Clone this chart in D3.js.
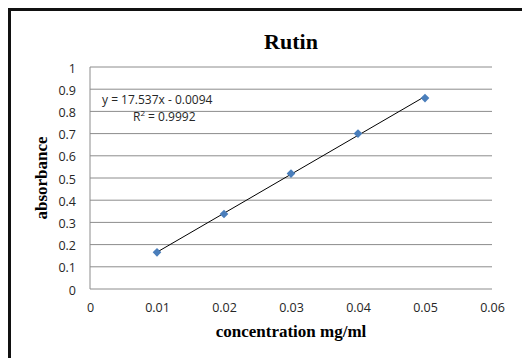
<!DOCTYPE html>
<html>
<head>
<meta charset="utf-8">
<script src="https://cdn.jsdelivr.net/npm/d3@7"></script>
<style>
  body { margin: 0; background: #fff; }
  svg { display: block; }
</style>
</head>
<body>
<svg id="chart" width="522" height="358"></svg>
<script>
// data
let concentration = [0.01, 0.02, 0.03, 0.04, 0.05]
let absorbance = [0.165, 0.338, 0.52, 0.70, 0.86]
let xTicks = [0, 0.01, 0.02, 0.03, 0.04, 0.05, 0.06]
let yTicks = [0, 0.1, 0.2, 0.3, 0.4, 0.5, 0.6, 0.7, 0.8, 0.9, 1]
let slope = 17.537, intercept = -0.0094, r2 = 0.9992

let svg = d3.select('#chart')
let plotLeft = 90, plotRight = 492, plotTop = 67, plotBottom = 289

let x = d3.scaleLinear().domain([0, 0.06]).range([plotLeft, plotRight])
let y = d3.scaleLinear().domain([0, 1]).range([plotBottom, plotTop])

// outer frame
svg.append('rect')
    .attr('x', 9.5).attr('y', 9.5)
    .attr('width', 530).attr('height', 360)
    .attr('fill', 'none')
    .attr('stroke', '#111')
    .attr('stroke-width', 3)

// gridlines
svg.append('g')
    .selectAll('line')
    .data(yTicks)
    .enter()
    .append('line')
    .attr('x1', plotLeft).attr('x2', plotRight)
    .attr('y1', d => y(d)).attr('y2', d => y(d))
    .attr('stroke', '#8c8c8c')
    .attr('stroke-width', 1)

// y axis line
svg.append('line')
    .attr('x1', plotLeft).attr('x2', plotLeft)
    .attr('y1', plotTop).attr('y2', plotBottom)
    .attr('stroke', '#8c8c8c')

// tick labels
let yAxis = d3.axisLeft(y).tickValues(yTicks).tickSize(0).tickPadding(14)
    .tickFormat(d => d3.format('')(+d.toFixed(1)))
let gy = svg.append('g').attr('transform', `translate(${plotLeft},1)`).call(yAxis)
gy.select('.domain').remove()
gy.selectAll('text')
    .style('font-family', '"Open Sans", sans-serif')
    .style('font-size', '12.5px')
    .attr('fill', '#262626')

let xAxis = d3.axisBottom(x).tickValues(xTicks).tickSize(0).tickPadding(14)
    .tickFormat(d => d3.format('')(+d.toFixed(2)))
let gx = svg.append('g').attr('transform', `translate(0,${plotBottom})`).call(xAxis)
gx.select('.domain').remove()
gx.selectAll('text')
    .style('font-family', '"Open Sans", sans-serif')
    .style('font-size', '12.5px')
    .attr('fill', '#262626')

// trendline
let x0 = d3.min(concentration), x1 = d3.max(concentration)
svg.append('line')
    .attr('x1', x(x0)).attr('y1', y(slope * x0 + intercept))
    .attr('x2', x(x1)).attr('y2', y(slope * x1 + intercept))
    .attr('stroke', '#000')
    .attr('stroke-width', 1)

// markers
svg.append('g')
    .selectAll('path')
    .data(concentration)
    .enter()
    .append('path')
    .attr('d', d3.symbol().type(d3.symbolDiamond2).size(48))
    .attr('transform', (d, i) => `translate(${x(d)},${y(absorbance[i])})`)
    .attr('fill', '#4a7ebb')

// equation
let eq = svg.append('g')
    .style('font-family', '"Open Sans", sans-serif')
    .style('font-size', '12px')
    .attr('fill', '#262626')
eq.append('text').attr('x', 102).attr('y', 104)
    .text(`y = ${slope}x - ${Math.abs(intercept)}`)
let rt = eq.append('text').attr('x', 133).attr('y', 121)
rt.append('tspan').text('R')
rt.append('tspan').attr('dy', -5).style('font-size', '8px').text('2')
rt.append('tspan').attr('dy', 5).text(` = ${r2}`)

// titles
svg.append('text')
    .attr('x', 291).attr('y', 49)
    .attr('text-anchor', 'middle')
    .style('font-family', '"Liberation Serif", serif')
    .style('font-weight', 'bold')
    .style('font-size', '22px')
    .text('Rutin')

svg.append('text')
    .attr('x', 291).attr('y', 337)
    .attr('text-anchor', 'middle')
    .style('font-family', '"Liberation Serif", serif')
    .style('font-weight', 'bold')
    .style('font-size', '17px')
    .text('concentration mg/ml')

svg.append('text')
    .attr('transform', `translate(47,${(plotTop + plotBottom) / 2}) rotate(-90)`)
    .attr('text-anchor', 'middle')
    .style('font-family', '"Liberation Serif", serif')
    .style('font-weight', 'bold')
    .style('font-size', '17px')
    .text('absorbance')
</script>
</body>
</html>
